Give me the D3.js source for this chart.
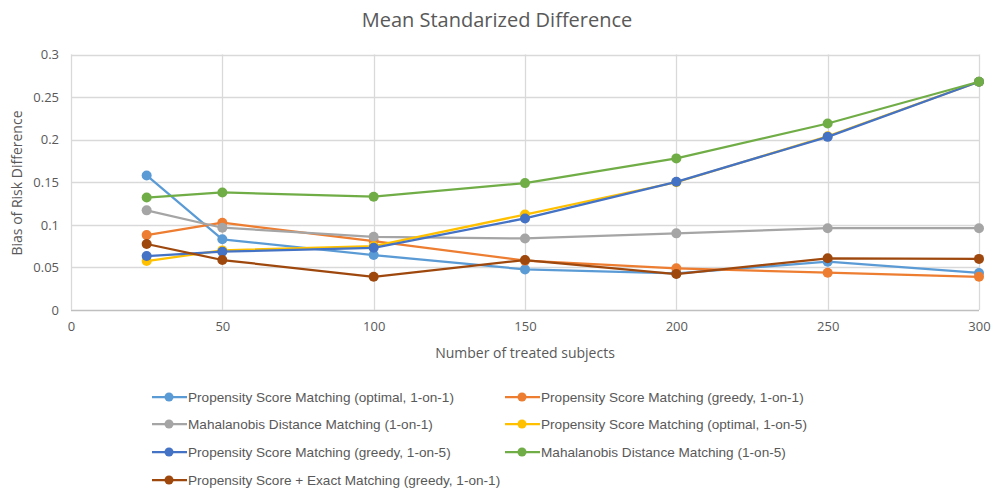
<!DOCTYPE html>
<html><head><meta charset="utf-8">
<script src="https://cdn.jsdelivr.net/npm/d3@7"></script>
<style>body{margin:0;background:#fff}svg{display:block}</style>
</head><body>
<svg id="c" width="996" height="488"></svg>
<script>
const xValues = [25, 50, 100, 150, 200, 250, 300];
const seriesNames = [
  "Propensity Score Matching (optimal, 1-on-1)",
  "Propensity Score Matching (greedy, 1-on-1)",
  "Mahalanobis Distance Matching (1-on-1)",
  "Propensity Score Matching (optimal, 1-on-5)",
  "Propensity Score Matching (greedy, 1-on-5)",
  "Mahalanobis Distance Matching (1-on-5)",
  "Propensity Score + Exact Matching (greedy, 1-on-1)"
];
const psOptimal11 = [0.158, 0.083, 0.0645, 0.0477, 0.043, 0.0567, 0.0435];
const psGreedy11  = [0.088, 0.1025, 0.081, 0.058, 0.049, 0.0438, 0.039];
const mahal11     = [0.117, 0.0966, 0.086, 0.084, 0.090, 0.096, 0.096];
const psOptimal15 = [0.0575, 0.070, 0.075, 0.112, 0.150, 0.204, 0.268];
const psGreedy15  = [0.0634, 0.0684, 0.073, 0.1075, 0.1505, 0.2033, 0.268];
const mahal15     = [0.132, 0.138, 0.133, 0.149, 0.178, 0.219, 0.268];
const psExact11   = [0.0775, 0.0587, 0.039, 0.0587, 0.0422, 0.0607, 0.060];
const seriesValues = [psOptimal11, psGreedy11, mahal11, psOptimal15, psGreedy15, mahal15, psExact11];
const colors = ["#5B9BD5", "#ED7D31", "#A5A5A5", "#FFC000", "#4472C4", "#70AD47", "#9E480E"];
const xTicks = [0, 50, 100, 150, 200, 250, 300];
const yTicks = [0, 0.05, 0.1, 0.15, 0.2, 0.25, 0.3];
const titleText = "Mean Standarized Difference";
const xLabel = "Number of treated subjects";
const yLabel = "Bias of Risk Difference";

const svg = d3.select("#c");
const font = "'Open Sans', 'Noto Sans', sans-serif";
const x = d3.scaleLinear().domain([0, 300]).range([71, 979]);
const y = d3.scaleLinear().domain([0, 0.3]).range([310, 54.5]);

// grid
const g = svg.append("g");
g.selectAll(".hg").data(yTicks).join("line")
  .attr("x1", x(0)).attr("x2", x(300))
  .attr("y1", d => Math.round(y(d)) + 0.5).attr("y2", d => Math.round(y(d)) + 0.5)
  .attr("stroke", d => d === 0 ? "#bfbfbf" : "#d9d9d9").attr("stroke-width", 1.3);
g.selectAll(".vg").data(xTicks).join("line")
  .attr("y1", y(0)).attr("y2", y(0.3))
  .attr("x1", d => Math.round(x(d)) + 0.5).attr("x2", d => Math.round(x(d)) + 0.5)
  .attr("stroke", "#d9d9d9").attr("stroke-width", 1.3);

// axes (labels only)
const yAxis = d3.axisLeft(y).tickValues(yTicks).tickSize(0).tickPadding(12)
  .tickFormat(d => d === 0 ? "0" : String(+d.toFixed(2)));
const ya = svg.append("g").attr("transform", `translate(${x(0)},0)`).call(yAxis);
ya.select(".domain").remove();
ya.selectAll("text").attr("fill", "#595959").style("font-family", font).style("font-size", "13px");

const xAxis = d3.axisBottom(x).tickValues(xTicks).tickSize(0).tickPadding(12);
const xa = svg.append("g").attr("transform", `translate(0,${y(0)})`).call(xAxis);
xa.select(".domain").remove();
xa.selectAll("text").attr("fill", "#595959").style("font-family", font).style("font-size", "13px");

// lines
const line = d3.line().x((d, i) => x(xValues[i])).y(d => y(d));
seriesValues.forEach((vals, s) => {
  svg.append("path").datum(vals).attr("d", line)
    .attr("fill", "none").attr("stroke", colors[s]).attr("stroke-width", 2.25)
    .attr("stroke-linejoin", "round");
  svg.selectAll(null).data(vals).join("circle")
    .attr("cx", (d, i) => x(xValues[i])).attr("cy", d => y(d)).attr("r", 5)
    .attr("fill", colors[s]);
});

// title & labels
svg.append("text").attr("x", 497).attr("y", 27).attr("text-anchor", "middle")
  .attr("fill", "#595959").style("font-family", font).style("font-size", "20px").text(titleText);
svg.append("text").attr("x", 525).attr("y", 358).attr("text-anchor", "middle")
  .attr("fill", "#595959").style("font-family", font).style("font-size", "14px").text(xLabel);
svg.append("text").attr("transform", "translate(22,183) rotate(-90)").attr("text-anchor", "middle")
  .attr("fill", "#595959").style("font-family", font).style("font-size", "14px").text(yLabel);

// legend
const legFont = "'Liberation Sans Narrow', 'Arial Narrow', sans-serif";
const colX = [152, 505];
const rowY = [397, 424, 452, 480];
seriesNames.forEach((name, i) => {
  const lx = colX[i % 2], ly = rowY[Math.floor(i / 2)];
  const lg = svg.append("g");
  lg.append("line").attr("x1", lx).attr("x2", lx + 35).attr("y1", ly).attr("y2", ly)
    .attr("stroke", colors[i]).attr("stroke-width", 2.25);
  lg.append("circle").attr("cx", lx + 17).attr("cy", ly).attr("r", 4.5).attr("fill", colors[i]);
  lg.append("text").attr("x", lx + 36).attr("y", ly).attr("dy", "0.35em")
    .attr("fill", "#595959").style("font-family", legFont).style("font-size", "13.6px").text(name);
});
</script>
</body></html>
